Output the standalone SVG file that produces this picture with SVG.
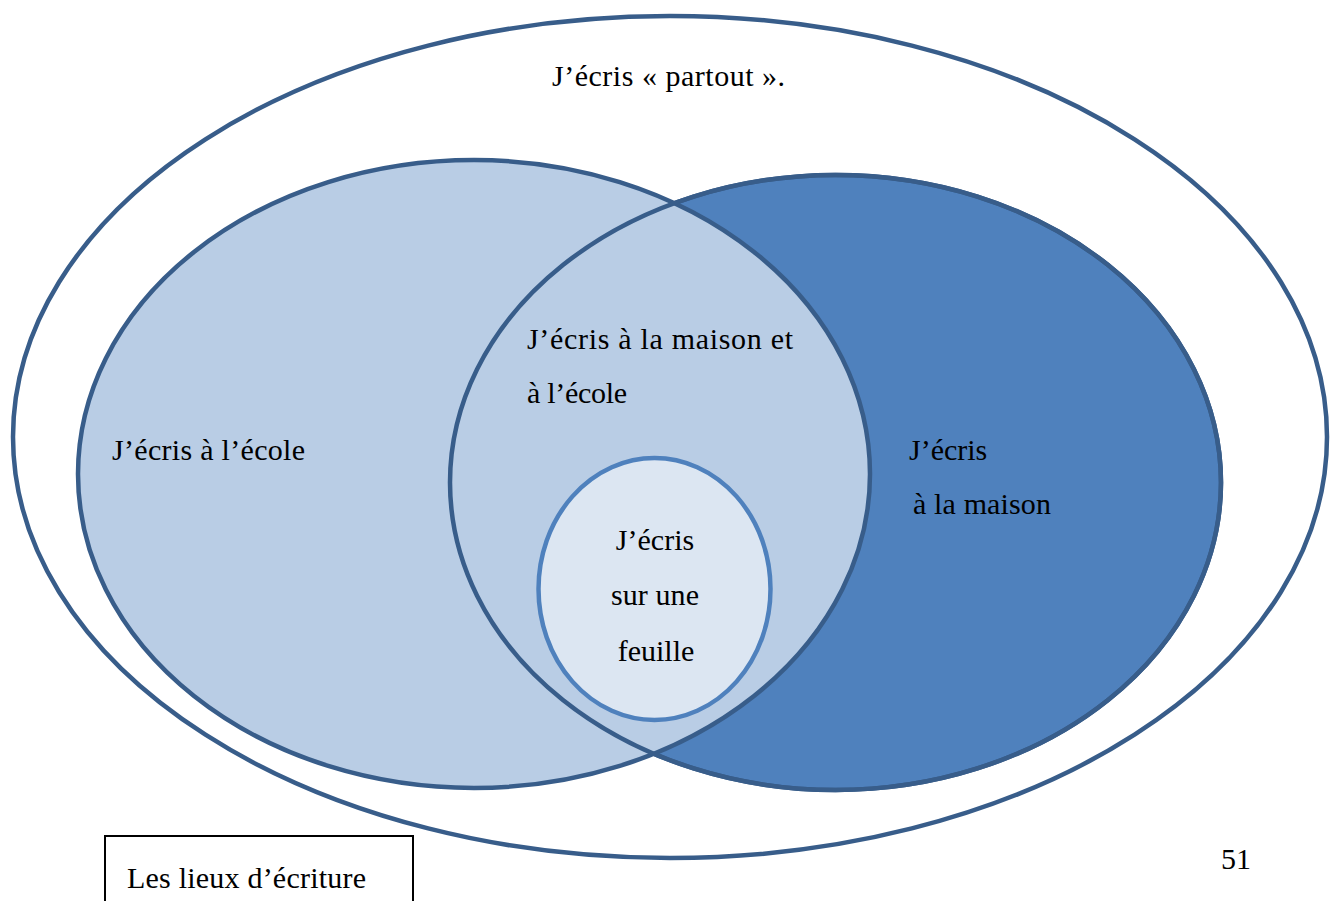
<svg xmlns="http://www.w3.org/2000/svg" width="1330" height="901" viewBox="0 0 1330 901">
<style>
  .t { font-size: 30px; fill: #000; }
  .ring { stroke: #385D8A; stroke-width: 4.5; }
</style>
<rect x="0" y="0" width="1330" height="901" fill="#FFFFFF"/>
<g font-family="'Liberation Serif', 'Times New Roman', Tinos, 'DejaVu Serif', serif">
<g id="partout">
  <ellipse class="ring" cx="670" cy="437" rx="657" ry="421" fill="#FFFFFF"/>
  <text class="t" x="552" y="86" textLength="233" lengthAdjust="spacing">J’écris « partout ».</text>
</g>
<g id="maison">
  <ellipse class="ring" cx="835.5" cy="482.5" rx="385.5" ry="307.5" fill="#4F81BD"/>
</g>
<g id="ecole">
  <ellipse class="ring" cx="474" cy="474" rx="396" ry="314" fill="#B9CDE5"/>
  <text class="t" x="112" y="460" textLength="193" lengthAdjust="spacing">J’écris à l’école</text>
</g>
<g id="maison-outline">
  <ellipse class="ring" cx="835.5" cy="482.5" rx="385.5" ry="307.5" fill="none"/>
  <text class="t" x="909" y="460">J’écris</text>
  <text class="t" x="913" y="514" textLength="138" lengthAdjust="spacing">à la maison</text>
</g>
<g id="maison-et-ecole">
  <text class="t" x="527" y="349" textLength="266" lengthAdjust="spacing">J’écris à la maison et</text>
  <text class="t" x="527" y="403" textLength="100" lengthAdjust="spacing">à l’école</text>
</g>
<g id="feuille">
  <ellipse cx="654.5" cy="589" rx="116" ry="131" fill="#DCE6F2" stroke="#4F81BD" stroke-width="4.5"/>
  <text class="t" x="655" y="550" text-anchor="middle">J’écris</text>
  <text class="t" x="655" y="605" text-anchor="middle" textLength="88" lengthAdjust="spacing">sur une</text>
  <text class="t" x="656" y="661" text-anchor="middle">feuille</text>
</g>
<g id="titre">
  <rect x="105" y="836" width="308" height="80" fill="#FFFFFF" stroke="#000000" stroke-width="2"/>
  <text class="t" x="127" y="888" textLength="239" lengthAdjust="spacing">Les lieux d’écriture</text>
</g>
<g id="page">
  <text class="t" x="1221" y="869">51</text>
</g>
</g>
<g id="connectors"/>
</svg>
